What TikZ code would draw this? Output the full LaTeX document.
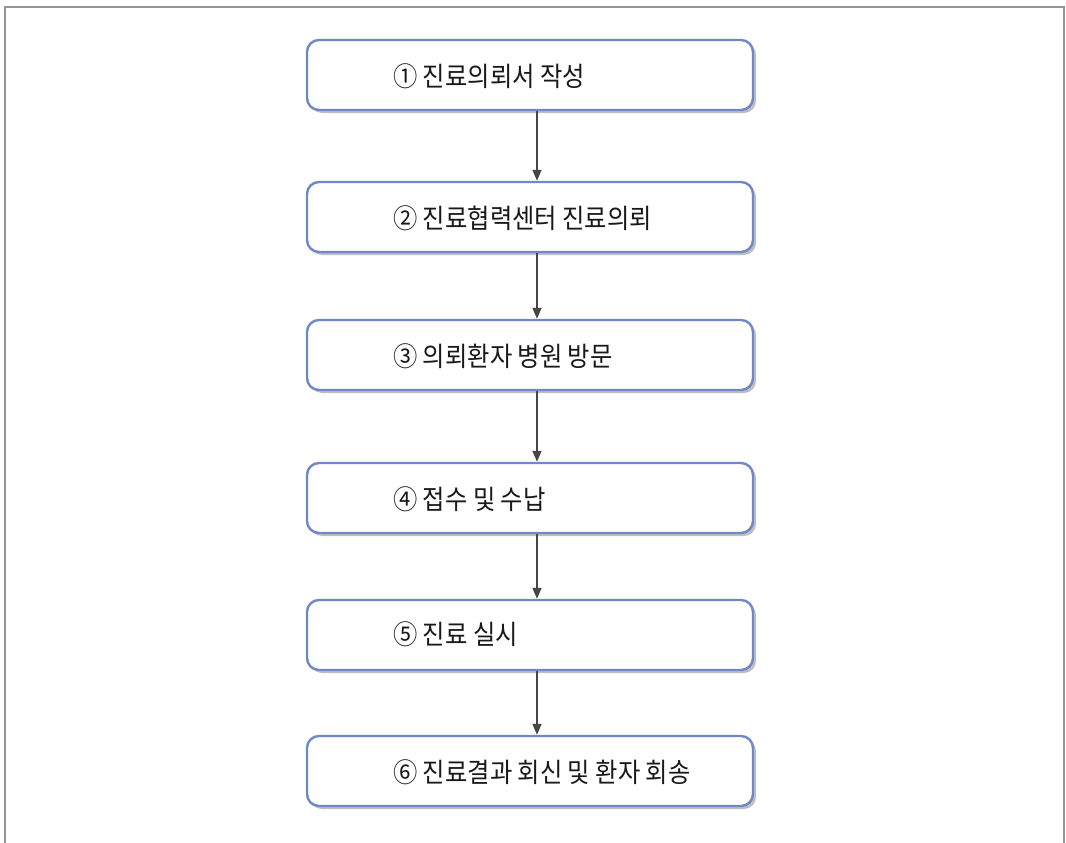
\documentclass[tikz,border=0pt]{standalone}
\usepackage{fontspec}
\newfontfamily\kfont[FakeStretch=0.9]{Noto Sans CJK KR}
\usetikzlibrary{arrows.meta,shadows}
\definecolor{boxblue}{RGB}{112,136,200}
\definecolor{framegray}{RGB}{150,150,150}
\definecolor{arrowgray}{RGB}{70,70,70}
\definecolor{shadowgray}{RGB}{190,190,190}
\tikzset{
  stepbox/.style={draw=boxblue, line width=2.4pt, rounded corners=12pt, fill=white,
    minimum width=446pt, minimum height=70pt, inner sep=0pt,
    drop shadow={shadow xshift=3pt, shadow yshift=-3pt, fill=shadowgray, opacity=1}},
  steptext/.style={anchor=west, font=\kfont\fontsize{27}{30}\selectfont, text=black!90, inner sep=0pt},
  flow/.style={draw=arrowgray, line width=1.6pt, -{Triangle[length=11pt,width=9pt]}}
}
\begin{document}
\begin{tikzpicture}[x=1pt,y=-1pt]
\useasboundingbox (0,0) rectangle (1066,843);
\draw[framegray, line width=2pt] (5,843) -- (5,7) -- (1064,7) -- (1064,843);
\node[stepbox] (b1) at (530,75) {};
\node[stepbox] (b2) at (530,217) {};
\node[stepbox] (b3) at (530,355) {};
\node[stepbox] (b4) at (530,498) {};
\node[stepbox] (b5) at (530,635) {};
\node[stepbox] (b6) at (530,771) {};
\node[steptext] (t1) at (393,76) {① 진료의뢰서 작성};
\node[steptext] (t2) at (393,218) {② 진료협력센터 진료의뢰};
\node[steptext] (t3) at (393,356) {③ 의뢰환자 병원 방문};
\node[steptext] (t4) at (393,499) {④ 접수 및 수납};
\node[steptext] (t5) at (393,634) {⑤ 진료 실시};
\node[steptext] (t6) at (393,772) {⑥ 진료결과 회신 및 환자 회송};
\foreach \a/\b in {b1/b2,b2/b3,b3/b4,b4/b5,b5/b6}{
  \draw[flow] ([xshift=7pt]\a.south) -- ([xshift=7pt]\b.north);
}
\end{tikzpicture}
\end{document}
